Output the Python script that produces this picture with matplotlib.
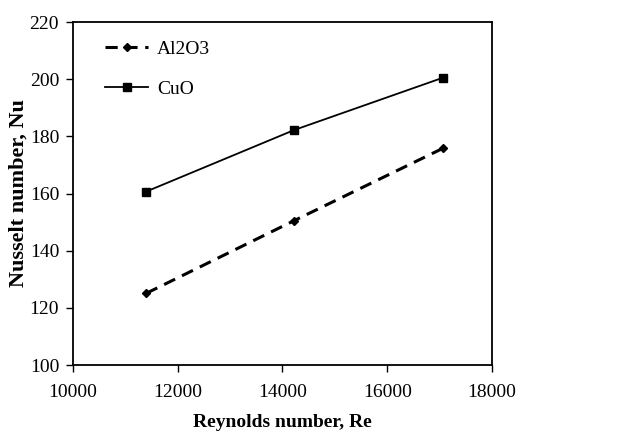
import matplotlib.pyplot as plt

plt.rcParams['font.family'] = ['Liberation Serif', 'DejaVu Serif']

# Data
reynolds = [11400, 14220, 17060]
nu_al2o3 = [125.1, 150.5, 175.8]
nu_cuo = [160.7, 182.2, 200.5]

fig = plt.figure(figsize=(6.27, 4.32), dpi=100)
ax = fig.add_axes([0.1164, 0.155, 0.6683, 0.794])

ax.plot(reynolds, nu_al2o3, color='black', linestyle='--', dashes=(4, 2.5),
        linewidth=2.2, marker='D', markersize=4, label='Al2O3')
ax.plot(reynolds, nu_cuo, color='black', linestyle='-', linewidth=1.3,
        marker='s', markersize=5.5, label='CuO')

ax.set_xlim(10000, 18000)
ax.set_ylim(100, 220)
ax.set_xticks(range(10000, 18001, 2000))
ax.set_yticks(range(100, 221, 20))

ax.tick_params(direction='out', length=5, width=1, labelsize=14,
               top=False, right=False)
ax.tick_params(axis='x', pad=9)
ax.tick_params(axis='y', pad=5)
for side in ax.spines.values():
    side.set_linewidth(1.3)

ax.set_xlabel('Reynolds number, Re', fontsize=14, fontweight='bold', labelpad=9)
ax.set_ylabel('Nusselt number, Nu', fontsize=16, fontweight='bold', labelpad=1)

ax.legend(loc='upper left', bbox_to_anchor=(0.026, 1.009), frameon=False,
          fontsize=14, handlelength=2.2, labelspacing=1.15, borderaxespad=0.7,
          handletextpad=0.45)

fig.savefig('out.png', dpi=100)
